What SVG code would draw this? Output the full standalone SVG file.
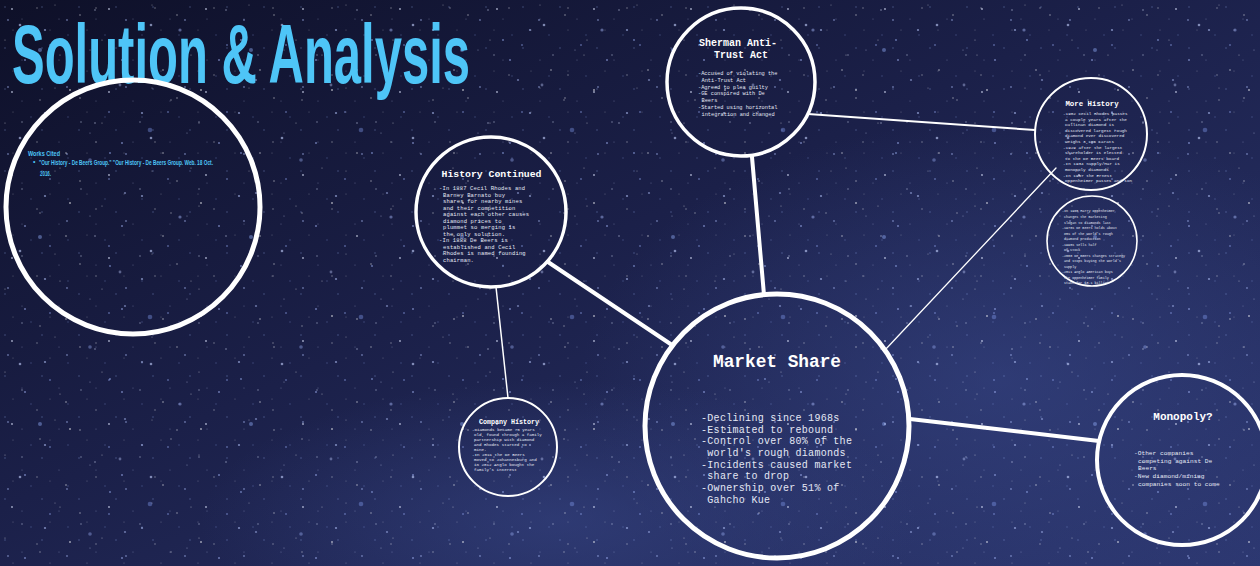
<svg xmlns="http://www.w3.org/2000/svg" width="1260" height="566" viewBox="0 0 1260 566">
  <defs>
    <linearGradient id="sky" x1="0" y1="0" x2="1" y2="1">
      <stop offset="0" stop-color="#0e1028"/>
      <stop offset="0.45" stop-color="#1b2049"/>
      <stop offset="1" stop-color="#2c3770"/>
    </linearGradient>
    <radialGradient id="glowR" cx="0.5" cy="0.5" r="0.5">
      <stop offset="0" stop-color="#3a4a8c" stop-opacity="0.5"/>
      <stop offset="1" stop-color="#3a4a8c" stop-opacity="0"/>
    </radialGradient>
    <pattern id="dust" width="37" height="41" patternUnits="userSpaceOnUse">
      <circle cx="5" cy="7" r="0.7" fill="#9fb6ff" opacity="0.4"/>
      <circle cx="22" cy="19" r="0.6" fill="#c8d4ff" opacity="0.35"/>
      <circle cx="31" cy="35" r="0.7" fill="#8aa2ee" opacity="0.35"/>
      <circle cx="13" cy="30" r="0.5" fill="#ffffff" opacity="0.35"/>
    </pattern>
    <pattern id="starsD" width="59" height="67" patternUnits="userSpaceOnUse">
      <circle cx="8" cy="20" r="0.9" fill="#aebfff" opacity="0.5"/>
      <circle cx="37" cy="8" r="0.7" fill="#ffffff" opacity="0.45"/>
      <circle cx="50" cy="45" r="1" fill="#93a9f2" opacity="0.45"/>
      <circle cx="22" cy="55" r="0.8" fill="#dce4ff" opacity="0.45"/>
    </pattern>
    <pattern id="starsA" width="97" height="83" patternUnits="userSpaceOnUse">
      <circle cx="12" cy="9" r="0.9" fill="#dfe6ff" opacity="0.7"/>
      <circle cx="45" cy="30" r="1.1" fill="#b8c8ff" opacity="0.6"/>
      <circle cx="80" cy="15" r="0.7" fill="#ffffff" opacity="0.6"/>
      <circle cx="25" cy="60" r="1" fill="#a9bcff" opacity="0.55"/>
      <circle cx="66" cy="70" r="0.8" fill="#ffffff" opacity="0.6"/>
      <circle cx="90" cy="50" r="0.6" fill="#cdd8ff" opacity="0.5"/>
      <circle cx="5" cy="40" r="0.6" fill="#ffffff" opacity="0.5"/>
      <circle cx="55" cy="5" r="0.5" fill="#ffffff" opacity="0.5"/>
    </pattern>
    <pattern id="starsB" width="131" height="113" patternUnits="userSpaceOnUse">
      <circle cx="20" cy="25" r="1.3" fill="#c4d2ff" opacity="0.6"/>
      <circle cx="70" cy="90" r="1" fill="#ffffff" opacity="0.55"/>
      <circle cx="110" cy="40" r="0.9" fill="#9fb4f8" opacity="0.6"/>
      <circle cx="40" cy="100" r="0.7" fill="#ffffff" opacity="0.5"/>
      <circle cx="95" cy="10" r="0.8" fill="#dbe3ff" opacity="0.55"/>
      <circle cx="60" cy="55" r="0.6" fill="#ffffff" opacity="0.5"/>
      <circle cx="125" cy="80" r="1.1" fill="#b3c3ff" opacity="0.5"/>
    </pattern>
    <pattern id="starsC" width="211" height="187" patternUnits="userSpaceOnUse">
      <circle cx="40" cy="50" r="2" fill="#8fa8f5" opacity="0.45"/>
      <circle cx="150" cy="130" r="2.3" fill="#7f98ea" opacity="0.4"/>
      <circle cx="180" cy="30" r="1.6" fill="#aabdff" opacity="0.45"/>
      <circle cx="90" cy="160" r="1.8" fill="#9ab0f5" opacity="0.4"/>
      <circle cx="120" cy="85" r="1.4" fill="#c0ceff" opacity="0.4"/>
    </pattern>
    <style>
      .ring { fill: none; stroke: #ffffff; }
      .link { stroke: #ffffff; fill: none; stroke-linecap: round; }
      .mono { font-family: "Liberation Mono", "DejaVu Sans Mono", monospace; fill: #ffffff; }
      .head { font-weight: bold; text-anchor: middle; }
      .body { fill: #e4e8f4; }
      .cite { font-family: "Liberation Sans", Arial, sans-serif; fill: #4ec5f7; }
    </style>
  </defs>

  <!-- night sky backdrop -->
  <rect width="1260" height="566" fill="url(#sky)"/>
  <ellipse cx="1000" cy="380" rx="420" ry="260" fill="url(#glowR)"/>
  <ellipse cx="560" cy="520" rx="360" ry="140" fill="url(#glowR)"/>
  <rect width="1260" height="566" fill="url(#dust)"/>
  <rect width="1260" height="566" fill="url(#starsD)"/>
  <rect width="1260" height="566" fill="url(#starsA)"/>
  <rect width="1260" height="566" fill="url(#starsB)"/>
  <rect width="1260" height="566" fill="url(#starsC)"/>

  <!-- heading -->
  <text id="title" x="12" y="83" class="cite" font-size="84" font-weight="bold" textLength="458" lengthAdjust="spacingAndGlyphs">Solution &amp; Analysis</text>

  <!-- connectors -->
  <g id="connectors">
    <line class="link" x1="548" y1="262" x2="672" y2="345" stroke-width="4"/>
    <line class="link" x1="508" y1="398" x2="496" y2="287" stroke-width="1.5"/>
    <line class="link" x1="752" y1="157" x2="764" y2="295" stroke-width="4"/>
    <line class="link" x1="808" y1="114" x2="1035" y2="130" stroke-width="2"/>
    <line class="link" x1="885" y1="350" x2="1056" y2="168" stroke-width="1.3"/>
    <line class="link" x1="910" y1="419" x2="1099" y2="441" stroke-width="4"/>
  </g>

  <!-- works cited -->
  <g id="works-cited">
    <circle class="ring" cx="133" cy="207" r="127" stroke-width="5"/>
    <text class="cite" x="28" y="156" font-size="7.5" font-weight="bold" textLength="32" lengthAdjust="spacingAndGlyphs">Works Cited</text>
    <text class="cite" x="33" y="164" font-size="7">•</text>
    <text class="cite" x="39" y="165" font-size="7.5" font-weight="bold" textLength="174" lengthAdjust="spacingAndGlyphs">"Our History - De Beers Group." "Our History - De Beers Group. Web. 18 Oct.</text>
    <text class="cite" x="40" y="176" font-size="7.5" font-weight="bold" textLength="11" lengthAdjust="spacingAndGlyphs">2016.</text>
  </g>

  <!-- Sherman Anti-Trust Act -->
  <g id="sherman">
    <circle class="ring" cx="741" cy="82" r="74" stroke-width="3.5"/>
    <text class="mono head" font-size="10">
      <tspan x="741" y="46">Sherman Anti-</tspan>
      <tspan x="741" y="58">Trust Act</tspan>
    </text>
    <text class="mono body" font-size="5.3">
      <tspan x="698" y="75">-Accused of violating the</tspan>
      <tspan x="701.5" y="81.8">Anti-Trust Act</tspan>
      <tspan x="698" y="88.6">-Agreed to plea guilty</tspan>
      <tspan x="698" y="95.4">-GE conspired with De</tspan>
      <tspan x="701.5" y="102.2">Beers</tspan>
      <tspan x="698" y="109">-Started using horizontal</tspan>
      <tspan x="701.5" y="115.8">integration and changed</tspan>
    </text>
  </g>

  <!-- History Continued -->
  <g id="history-continued">
    <circle class="ring" cx="491" cy="212" r="75" stroke-width="3.5"/>
    <text class="mono head" x="491.5" y="177" font-size="9.8">History Continued</text>
    <text class="mono body" font-size="5.5" letter-spacing="0.15">
      <tspan x="439" y="190">-In 1887 Cecil Rhodes and</tspan>
      <tspan x="443" y="196.5">Barney Barnato buy</tspan>
      <tspan x="443" y="203">shares for nearby mines</tspan>
      <tspan x="443" y="209.5">and their competition</tspan>
      <tspan x="443" y="216">against each other causes</tspan>
      <tspan x="443" y="222.5">diamond prices to</tspan>
      <tspan x="443" y="229">plummet so merging is</tspan>
      <tspan x="443" y="235.5">the only solution.</tspan>
      <tspan x="439" y="242">-In 1888 De Beers is</tspan>
      <tspan x="443" y="248.5">established and Cecil</tspan>
      <tspan x="443" y="255">Rhodes is named founding</tspan>
      <tspan x="443" y="261.5">chairman.</tspan>
    </text>
  </g>

  <!-- More History -->
  <g id="more-history">
    <circle class="ring" cx="1091" cy="134" r="56" stroke-width="2"/>
    <text class="mono head" x="1092" y="106" font-size="7.4">More History</text>
    <text class="mono body" font-size="4.3">
      <tspan x="1063" y="115">-1902 Cecil Rhodes passes</tspan>
      <tspan x="1065" y="120.6">a couple years after the</tspan>
      <tspan x="1065" y="126.2">Cullinan diamond is</tspan>
      <tspan x="1065" y="131.8">discovered largest rough</tspan>
      <tspan x="1065" y="137.4">diamond ever discovered</tspan>
      <tspan x="1065" y="143">weighs 3,106 carats</tspan>
      <tspan x="1063" y="148.6">-1929 after the largest</tspan>
      <tspan x="1065" y="154.2">shareholder is elected</tspan>
      <tspan x="1065" y="159.8">to the De Beers board</tspan>
      <tspan x="1063" y="165.4">-In 1934 Supply/Mar is</tspan>
      <tspan x="1065" y="171">monopoly diamonds</tspan>
      <tspan x="1063" y="176.6">-In 1957 the Ernest</tspan>
      <tspan x="1065" y="182.2">Oppenheimer passes and son</tspan>
    </text>
  </g>

  <!-- notes circle -->
  <g id="notes">
    <circle class="ring" cx="1092" cy="241" r="45" stroke-width="1.6"/>
    <text class="mono body" font-size="3.4">
      <tspan x="1062" y="212">-In 1965 Harry Oppenheimer</tspan>
      <tspan x="1064" y="218">changes the marketing</tspan>
      <tspan x="1064" y="223.5">slogan to diamonds last</tspan>
      <tspan x="1062" y="229">-1970s De Beers holds about</tspan>
      <tspan x="1064" y="234.5">85% of the world's rough</tspan>
      <tspan x="1064" y="240">diamond production</tspan>
      <tspan x="1062" y="245.5">-1990s sells half</tspan>
      <tspan x="1064" y="251">of stock</tspan>
      <tspan x="1062" y="256.5">-2000 De Beers changes strategy</tspan>
      <tspan x="1064" y="262">and stops buying the world's</tspan>
      <tspan x="1064" y="267.5">supply</tspan>
      <tspan x="1062" y="273">-2011 Anglo American buys</tspan>
      <tspan x="1064" y="278.5">the Oppenheimer family</tspan>
      <tspan x="1064" y="284">stake for $5.1 billion</tspan>
    </text>
  </g>

  <!-- Company History -->
  <g id="company-history">
    <circle class="ring" cx="508" cy="447" r="49" stroke-width="2"/>
    <text class="mono head" x="509" y="424" font-size="6.7">Company History</text>
    <text class="mono body" font-size="4.2">
      <tspan x="472" y="431">-Diamonds became 75 years</tspan>
      <tspan x="474" y="436">old, found through a family</tspan>
      <tspan x="474" y="441">partnership with diamond</tspan>
      <tspan x="474" y="446">and Rhodes started to</tspan>
      <tspan x="474" y="451">mine.</tspan>
      <tspan x="472" y="456">-In 2011 the De Beers</tspan>
      <tspan x="474" y="461">moved to Johannesburg and</tspan>
      <tspan x="474" y="466">in 2012 Anglo bought the</tspan>
      <tspan x="474" y="471">family's interest</tspan>
    </text>
  </g>

  <!-- Market Share -->
  <g id="market-share">
    <circle class="ring" cx="777" cy="426" r="132" stroke-width="5"/>
    <text class="mono head" x="777" y="367" font-size="17.8">Market Share</text>
    <text class="mono body" font-size="10" letter-spacing="0.3">
      <tspan x="701" y="421">-Declining since 1968s</tspan>
      <tspan x="701" y="432.7">-Estimated to rebound</tspan>
      <tspan x="701" y="444.3">-Control over 80% of the</tspan>
      <tspan x="707.3" y="456">world's rough diamonds</tspan>
      <tspan x="701" y="467.7">-Incidents caused market</tspan>
      <tspan x="707.3" y="479.3">share to drop</tspan>
      <tspan x="701" y="491">-Ownership over 51% of</tspan>
      <tspan x="707.3" y="502.7">Gahcho Kue</tspan>
    </text>
  </g>

  <!-- Monopoly? -->
  <g id="monopoly">
    <circle class="ring" cx="1182" cy="460" r="85" stroke-width="4"/>
    <text class="mono head" x="1183" y="420" font-size="11">Monopoly?</text>
    <text class="mono body" font-size="6.2">
      <tspan x="1134" y="455">-Other companies</tspan>
      <tspan x="1138" y="462.5">competing against De</tspan>
      <tspan x="1138" y="470">Beers</tspan>
      <tspan x="1134" y="478">-New diamond/mining</tspan>
      <tspan x="1138" y="485.5">companies soon to come</tspan>
    </text>
  </g>
</svg>
